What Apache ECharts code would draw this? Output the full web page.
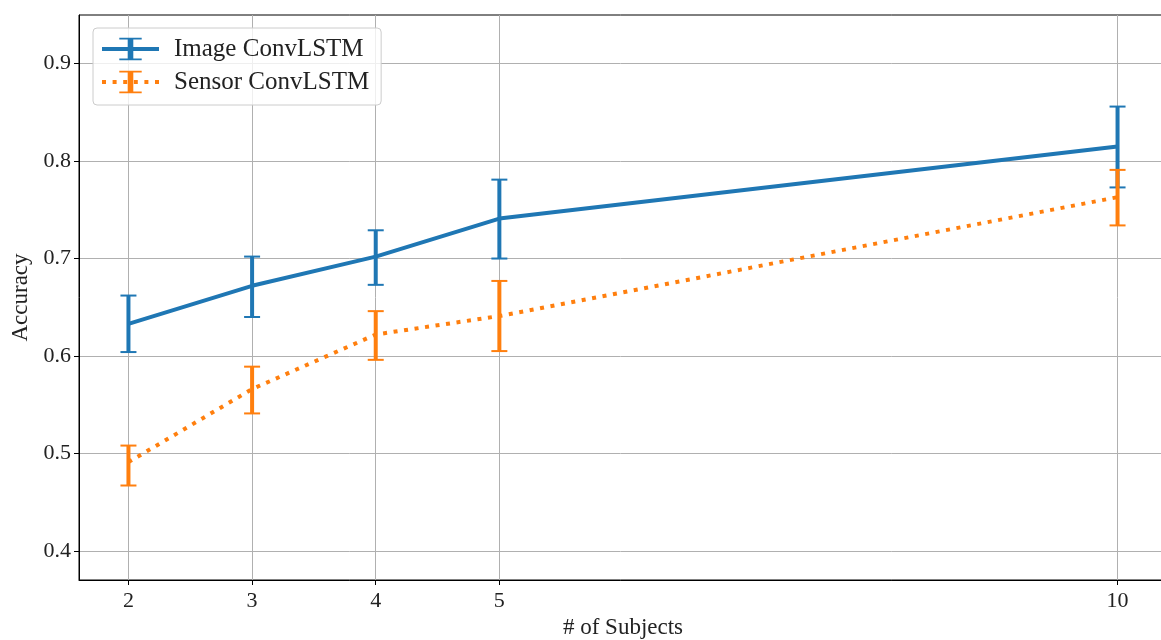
<!DOCTYPE html>
<html>
<head>
<meta charset="utf-8">
<script src="https://cdn.jsdelivr.net/npm/echarts@6/dist/echarts.min.js"></script>
<style>
  html, body { margin: 0; padding: 0; background: #fff; }
  #main { width: 1161px; height: 640px; }
</style>
</head>
<body>
<div id="main"></div>
<script>
// number of subjects
const subjects = [2, 3, 4, 5, 10]
// Image ConvLSTM: mean, lower, upper
const imageMean = [0.633, 0.672, 0.702, 0.741, 0.815]
const imageLow = [0.604, 0.640, 0.673, 0.700, 0.773]
const imageHigh = [0.662, 0.702, 0.729, 0.781, 0.856]
// Sensor ConvLSTM: mean, lower, upper
const sensorMean = [0.491, 0.566, 0.622, 0.641, 0.763]
const sensorLow = [0.467, 0.541, 0.596, 0.605, 0.734]
const sensorHigh = [0.508, 0.589, 0.646, 0.677, 0.791]
const yTicks = [0.4, 0.5, 0.6, 0.7, 0.8, 0.9]

const BLUE = '#1f77b4'
const ORANGE = '#ff7f0e'
const FONT = 'Liberation Serif'
// error bar shape used as legend symbol
const barIcon = 'path://M0,0h16v2h-16z M6,0h4v28h-4z M0,26h16v2h-16z'

const zip = (a, b) => a.map((v, i) => [v, b[i]])
const errData = (low, high) => subjects.map((x, i) => [x, low[i], high[i]])

// draw vertical error bars with caps
const errorBars = (color) => (params, api) => {
    const x = api.value(0)
    const lo = api.coord([x, api.value(1)])
    const hi = api.coord([x, api.value(2)])
    const half = 8
    const cap = { stroke: color, lineWidth: 2 }
    return {
        type: 'group',
        children: [
            { type: 'line', shape: { x1: lo[0], y1: lo[1], x2: hi[0], y2: hi[1] }, style: { stroke: color, lineWidth: 4 } },
            { type: 'line', shape: { x1: lo[0] - half, y1: lo[1], x2: lo[0] + half, y2: lo[1] }, style: cap },
            { type: 'line', shape: { x1: hi[0] - half, y1: hi[1], x2: hi[0] + half, y2: hi[1] }, style: cap }
        ]
    }
}

const chart = echarts.init(document.getElementById('main'))
chart.setOption({
    backgroundColor: '#ffffff',
    animation: false,
    grid: {
        left: 79,
        top: 15,
        right: -6,
        bottom: 60,
        outerBoundsMode: 'none',
        containLabel: false,
        show: true,
        borderColor: '#000',
        borderWidth: 1
    },
    legend: {
        left: 93,
        top: 28,
        orient: 'vertical',
        data: ['Image ConvLSTM', 'Sensor ConvLSTM'],
        itemWidth: 57,
        itemHeight: 28,
        itemGap: 5,
        padding: [7, 12, 9, 7],
        backgroundColor: 'rgba(255,255,255,0.8)',
        borderColor: '#cccccc',
        borderWidth: 1,
        borderRadius: 4,
        lineStyle: { width: 4 },
        textStyle: { fontFamily: FONT, fontSize: 25, color: '#222', padding: [0, 0, 0, 10], lineHeight: 28 }
    },
    xAxis: {
        type: 'value',
        min: 1.6,
        max: 10.4,
        name: '# of Subjects',
        nameLocation: 'middle',
        nameGap: 36,
        nameTextStyle: { fontFamily: FONT, fontSize: 23, color: '#222' },
        axisLine: { show: true, lineStyle: { color: '#000', width: 1 } },
        axisTick: { show: true, length: 5, lineStyle: { color: '#000' }, customValues: subjects },
        axisLabel: { fontFamily: FONT, fontSize: 22, color: '#222', margin: 10, customValues: subjects },
        splitLine: { show: true, lineStyle: { color: '#b0b0b0', width: 1 } }
    },
    yAxis: {
        type: 'value',
        min: 0.37,
        max: 0.95,
        name: 'Accuracy',
        nameLocation: 'middle',
        nameGap: 47,
        nameTextStyle: { fontFamily: FONT, fontSize: 23, color: '#222' },
        axisLine: { show: true, lineStyle: { color: '#000', width: 1 } },
        axisTick: { show: true, length: 5, lineStyle: { color: '#000' }, customValues: yTicks },
        axisLabel: { fontFamily: FONT, fontSize: 22, color: '#222', margin: 8, customValues: yTicks, formatter: v => v.toFixed(1) },
        splitLine: { show: true, lineStyle: { color: '#b0b0b0', width: 1 } }
    },
    series: [
        {
            name: 'Image ConvLSTM',
            type: 'line',
            data: zip(subjects, imageMean),
            symbol: barIcon,
            showSymbol: false,
            itemStyle: { color: BLUE },
            lineStyle: { color: BLUE, width: 4 },
            z: 2
        },
        {
            name: 'Image ConvLSTM',
            type: 'custom',
            data: errData(imageLow, imageHigh),
            renderItem: errorBars(BLUE),
            encode: { x: 0, y: [1, 2] },
            z: 3
        },
        {
            name: 'Sensor ConvLSTM',
            type: 'line',
            data: zip(subjects, sensorMean),
            symbol: barIcon,
            showSymbol: false,
            itemStyle: { color: ORANGE },
            lineStyle: { color: ORANGE, width: 4, type: [4, 6.6] },
            z: 4
        },
        {
            name: 'Sensor ConvLSTM',
            type: 'custom',
            data: errData(sensorLow, sensorHigh),
            renderItem: errorBars(ORANGE),
            encode: { x: 0, y: [1, 2] },
            z: 5
        }
    ]
})
</script>
</body>
</html>
